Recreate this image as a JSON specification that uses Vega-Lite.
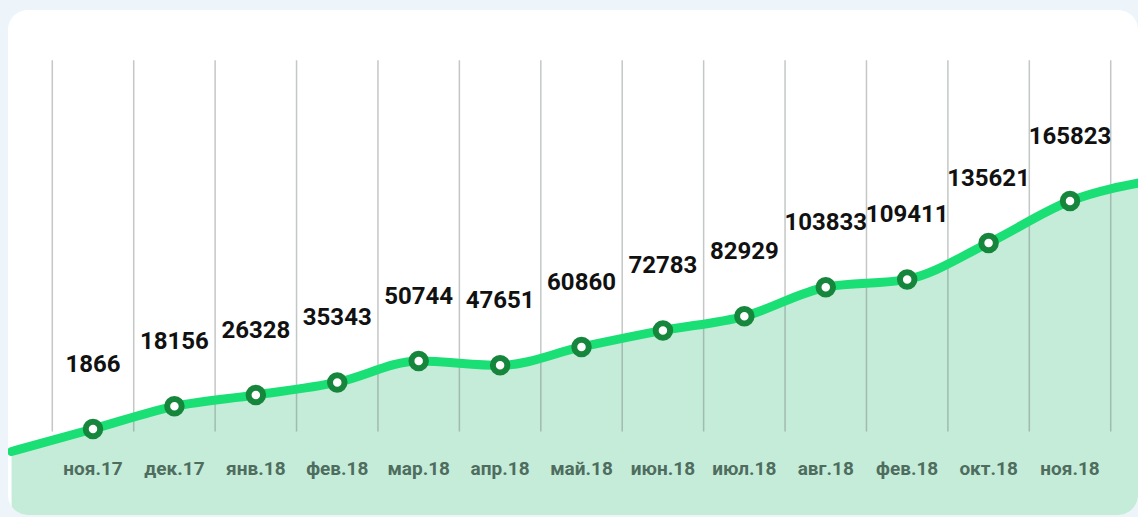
{
  "$schema": "https://vega.github.io/schema/vega-lite/v6.json",
  "width": 1130,
  "height": 505,
  "autosize": {"type": "none"},
  "padding": {"left": 8, "top": 10, "right": 0, "bottom": 2},
  "background": "#eef5fa",
  "view": {"fill": "white", "stroke": null, "cornerRadius": 20},
  "config": {"axis": {"disable": true}},
  "datasets": {
    "series": [
      {"i": -1, "value": -14300},
      {"i": 0, "month": "ноя.17", "value": 1866},
      {"i": 1, "month": "дек.17", "value": 18156},
      {"i": 2, "month": "янв.18", "value": 26328},
      {"i": 3, "month": "фев.18", "value": 35343},
      {"i": 4, "month": "мар.18", "value": 50744},
      {"i": 5, "month": "апр.18", "value": 47651},
      {"i": 6, "month": "май.18", "value": 60860},
      {"i": 7, "month": "июн.18", "value": 72783},
      {"i": 8, "month": "июл.18", "value": 82929},
      {"i": 9, "month": "авг.18", "value": 103833},
      {"i": 10, "month": "фев.18", "value": 109411},
      {"i": 11, "month": "окт.18", "value": 135621},
      {"i": 12, "month": "ноя.18", "value": 165823},
      {"i": 13, "value": 180500}
    ],
    "grid": [
      {"g": -0.5}, {"g": 0.5}, {"g": 1.5}, {"g": 2.5}, {"g": 3.5}, {"g": 4.5}, {"g": 5.5},
      {"g": 6.5}, {"g": 7.5}, {"g": 8.5}, {"g": 9.5}, {"g": 10.5}, {"g": 11.5}, {"g": 12.5}
    ]
  },
  "layer": [
    {
      "data": {"name": "series"},
      "mark": {"type": "area", "clip": true, "interpolate": "monotone", "color": "#c4ecd9"},
      "encoding": {
        "x": {"field": "i", "type": "quantitative", "scale": {"domain": [-1.044, 12.835], "nice": false, "zero": false}},
        "y": {"field": "value", "type": "quantitative", "scale": {"domain": [-59974, 303178], "nice": false, "zero": false}},
        "y2": {"datum": -59974}
      }
    },
    {
      "data": {"name": "grid"},
      "mark": {"type": "rule", "stroke": "#6f7a74", "strokeOpacity": 0.42, "strokeWidth": 1.5},
      "encoding": {
        "x": {"field": "g", "type": "quantitative", "scale": {"domain": [-1.044, 12.835], "nice": false, "zero": false}},
        "y": {"datum": 0, "type": "quantitative", "scale": {"domain": [-59974, 303178], "nice": false, "zero": false}},
        "y2": {"datum": 267000}
      }
    },
    {
      "data": {"name": "series"},
      "mark": {"type": "line", "clip": true, "interpolate": "monotone", "stroke": "#1adf74", "strokeWidth": 9, "strokeCap": "round"},
      "encoding": {
        "x": {"field": "i", "type": "quantitative", "scale": {"domain": [-1.044, 12.835], "nice": false, "zero": false}},
        "y": {"field": "value", "type": "quantitative", "scale": {"domain": [-59974, 303178], "nice": false, "zero": false}}
      }
    },
    {
      "data": {"name": "series"},
      "transform": [{"filter": "isValid(datum.month)"}],
      "mark": {"type": "circle", "fill": "white", "stroke": "#16863c", "strokeWidth": 6, "size": 210, "opacity": 1},
      "encoding": {
        "x": {"field": "i", "type": "quantitative", "scale": {"domain": [-1.044, 12.835], "nice": false, "zero": false}},
        "y": {"field": "value", "type": "quantitative", "scale": {"domain": [-59974, 303178], "nice": false, "zero": false}}
      }
    },
    {
      "data": {"name": "series"},
      "transform": [{"filter": "isValid(datum.month)"}],
      "mark": {"type": "text", "dy": -64, "font": "Roboto", "fontWeight": "bold", "fontSize": 24, "color": "#111111", "baseline": "middle", "align": "center"},
      "encoding": {
        "x": {"field": "i", "type": "quantitative", "scale": {"domain": [-1.044, 12.835], "nice": false, "zero": false}},
        "y": {"field": "value", "type": "quantitative", "scale": {"domain": [-59974, 303178], "nice": false, "zero": false}},
        "text": {"field": "value", "type": "nominal"}
      }
    },
    {
      "data": {"name": "series"},
      "transform": [{"filter": "isValid(datum.month)"}],
      "mark": {"type": "text", "font": "Roboto", "fontWeight": "bold", "fontSize": 19, "color": "#4f6d5e", "baseline": "middle", "align": "center"},
      "encoding": {
        "x": {"field": "i", "type": "quantitative", "scale": {"domain": [-1.044, 12.835], "nice": false, "zero": false}},
        "y": {"datum": -26900, "type": "quantitative", "scale": {"domain": [-59974, 303178], "nice": false, "zero": false}},
        "text": {"field": "month", "type": "nominal"}
      }
    }
  ]
}
